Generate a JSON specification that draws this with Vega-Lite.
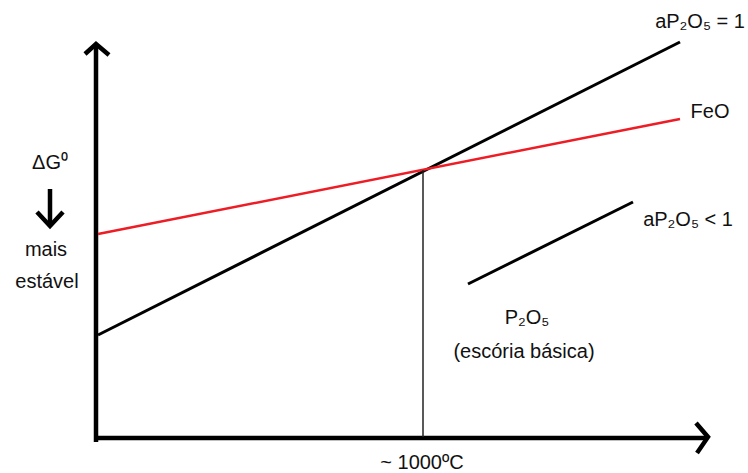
{
  "$schema": "https://vega.github.io/schema/vega-lite/v6.json",
  "width": 748,
  "height": 473,
  "autosize": {"type": "fit", "contains": "padding"},
  "padding": 0,
  "background": "white",
  "config": {"view": {"stroke": null}},
  "datasets": {
    "lines": [
      {"s": "yaxis", "o": 0, "x": 96, "y": 31},
      {"s": "yaxis", "o": 1, "x": 96, "y": 428},
      {"s": "yhead", "o": 0, "x": 85, "y": 419},
      {"s": "yhead", "o": 1, "x": 96, "y": 429},
      {"s": "yhead", "o": 2, "x": 109, "y": 418},
      {"s": "xaxis", "o": 0, "x": 94, "y": 35},
      {"s": "xaxis", "o": 1, "x": 707, "y": 35},
      {"s": "xhead", "o": 0, "x": 696, "y": 50},
      {"s": "xhead", "o": 1, "x": 708, "y": 36},
      {"s": "xhead", "o": 2, "x": 697, "y": 20},
      {"s": "aP2O5 = 1", "o": 0, "x": 98, "y": 138},
      {"s": "aP2O5 = 1", "o": 1, "x": 680, "y": 431},
      {"s": "FeO", "o": 0, "x": 98, "y": 239},
      {"s": "FeO", "o": 1, "x": 680, "y": 354},
      {"s": "1000C", "o": 0, "x": 423, "y": 303},
      {"s": "1000C", "o": 1, "x": 423, "y": 36},
      {"s": "aP2O5 < 1", "o": 0, "x": 468, "y": 189},
      {"s": "aP2O5 < 1", "o": 1, "x": 633, "y": 271},
      {"s": "dshaft", "o": 0, "x": 50, "y": 284},
      {"s": "dshaft", "o": 1, "x": 50, "y": 248},
      {"s": "dhead", "o": 0, "x": 37, "y": 261},
      {"s": "dhead", "o": 1, "x": 50, "y": 247},
      {"s": "dhead", "o": 2, "x": 63, "y": 261}
    ],
    "labels": [
      {"x": 700, "y": 451, "t": "aP₂O₅ = 1"},
      {"x": 710, "y": 361, "t": "FeO"},
      {"x": 688, "y": 253, "t": "aP₂O₅ < 1"},
      {"x": 527, "y": 155, "t": "P₂O₅"},
      {"x": 524, "y": 121, "t": "(escória básica)"},
      {"x": 422, "y": 10, "t": "~ 1000ºC"},
      {"x": 50, "y": 310, "t": "ΔG⁰"},
      {"x": 46, "y": 223, "t": "mais"},
      {"x": 47, "y": 191, "t": "estável"}
    ]
  },
  "encoding": {
    "x": {"field": "x", "type": "quantitative", "scale": {"domain": [0, 748], "nice": false, "zero": false}, "axis": null},
    "y": {"field": "y", "type": "quantitative", "scale": {"domain": [0, 473], "nice": false, "zero": false}, "axis": null}
  },
  "layer": [
    {
      "data": {"name": "lines"},
      "transform": [{"filter": "indexof(['yaxis','yhead','xaxis','xhead'], datum.s) >= 0"}],
      "mark": {"type": "line", "color": "black", "strokeWidth": 4.5, "strokeJoin": "miter", "strokeCap": "butt"},
      "encoding": {"detail": {"field": "s"}, "order": {"field": "o"}}
    },
    {
      "data": {"name": "lines"},
      "transform": [{"filter": "datum.s == 'aP2O5 = 1' || datum.s == 'aP2O5 < 1'"}],
      "mark": {"type": "line", "color": "black", "strokeWidth": 3},
      "encoding": {"detail": {"field": "s"}, "order": {"field": "o"}}
    },
    {
      "data": {"name": "lines"},
      "transform": [{"filter": "datum.s == 'FeO'"}],
      "mark": {"type": "line", "color": "#ee1c25", "strokeWidth": 2.5},
      "encoding": {"order": {"field": "o"}}
    },
    {
      "data": {"name": "lines"},
      "transform": [{"filter": "datum.s == '1000C'"}],
      "mark": {"type": "line", "color": "#222222", "strokeWidth": 1.5},
      "encoding": {"order": {"field": "o"}}
    },
    {
      "data": {"name": "lines"},
      "transform": [{"filter": "datum.s == 'dshaft' || datum.s == 'dhead'"}],
      "mark": {"type": "line", "color": "black", "strokeWidth": 4.5, "strokeJoin": "miter"},
      "encoding": {"detail": {"field": "s"}, "order": {"field": "o"}}
    },
    {
      "data": {"name": "labels"},
      "mark": {"type": "text", "font": "Liberation Sans", "fontSize": 20, "color": "#111111", "align": "center", "baseline": "middle"},
      "encoding": {"text": {"field": "t"}}
    }
  ]
}
